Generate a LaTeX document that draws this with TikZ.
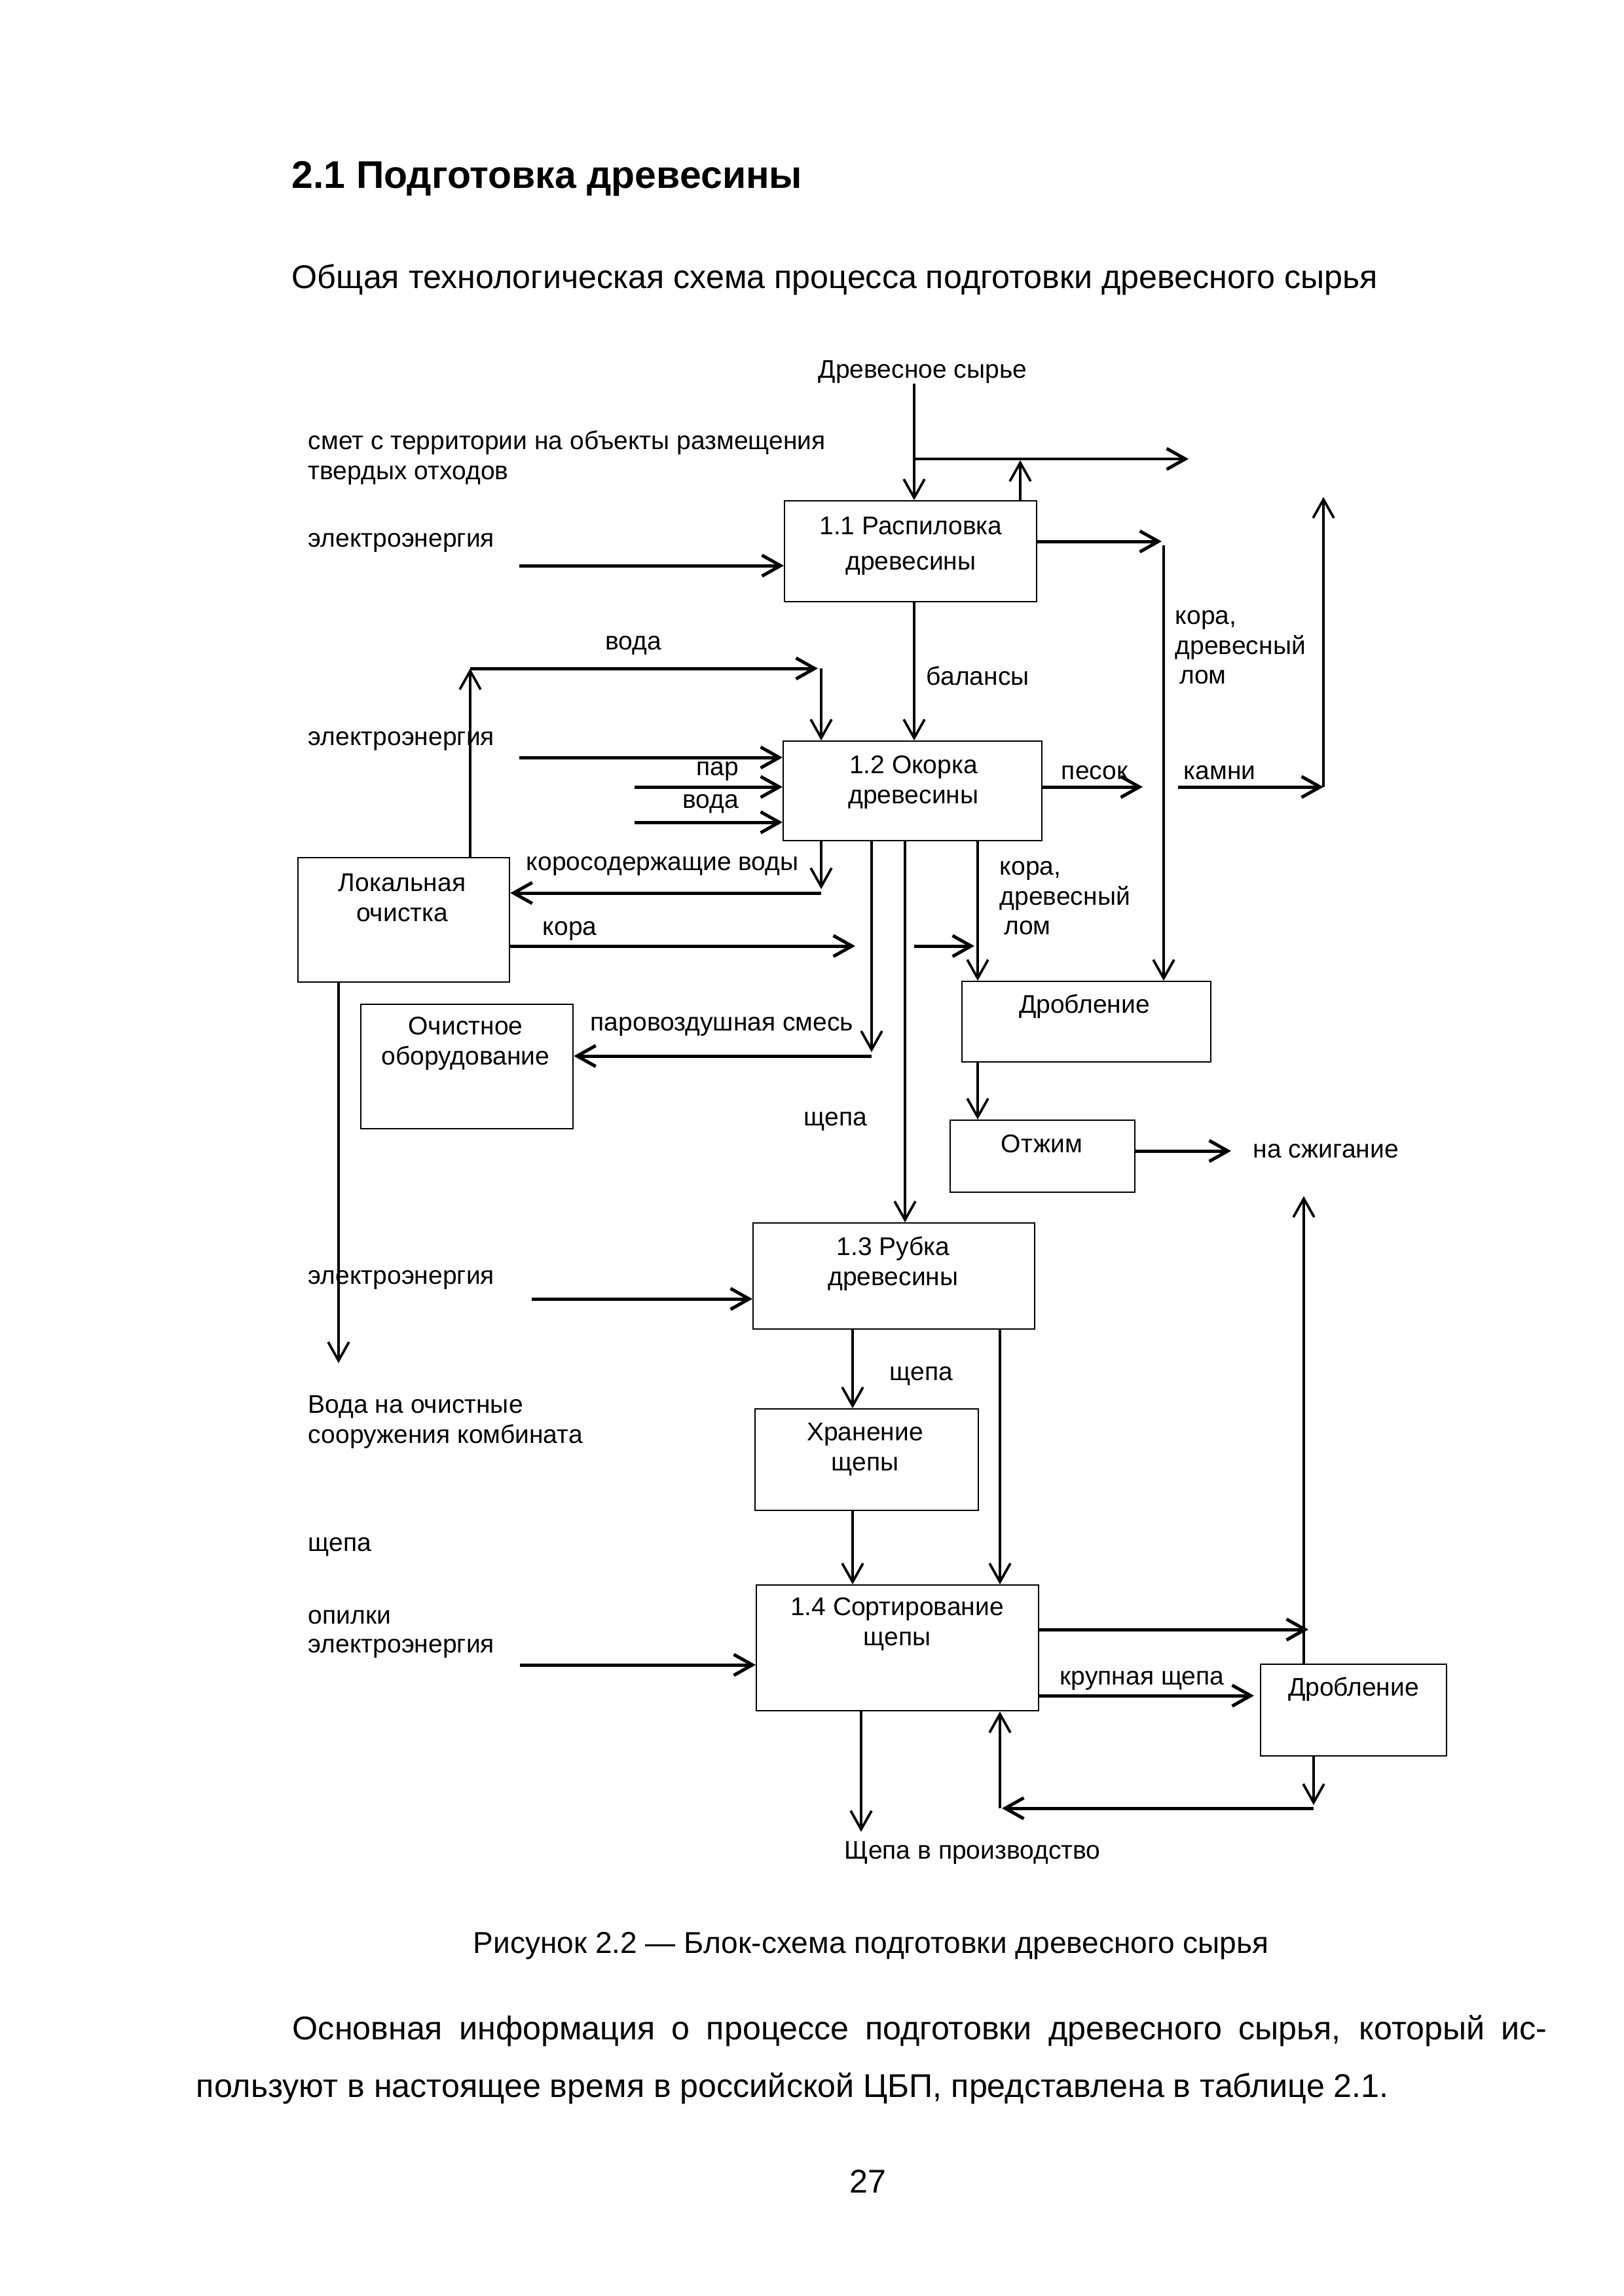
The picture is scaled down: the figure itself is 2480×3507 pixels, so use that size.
\documentclass[tikz,border=0pt]{standalone}
\usepackage{fontspec}
\setmainfont{Liberation Sans}
\usetikzlibrary{arrows.meta}
\newcommand\edpx{0.0846774mm}
\newcommand\dfont{\fontsize{9.4pt}{11pt}\selectfont}
\tikzset{
  blok/.style 2 args={draw, line width=0.55pt, minimum width=#1*\edpx, minimum height=#2*\edpx, anchor=north west, inner sep=0pt},
  txt/.style={font=\dfont, inner sep=0pt, align=center},
  ltxt/.style={font=\dfont, inner sep=0pt, align=left, anchor=west},
  potok/.style={line width=1.2pt, ->},
  vpot/.style={line width=0.9pt, ->},
}
\begin{document}
\begin{tikzpicture}[x=\edpx, y=-\edpx, >={Straight Barb[length=2.4mm,width=2.7mm]}]
\useasboundingbox (0,0) rectangle (2480,3507);
% page text
\node[font=\fontsize{14.2pt}{16pt}\selectfont\bfseries, anchor=west, inner sep=0pt] (zag) at (445,273) {2.1 Подготовка древесины};
\node[font=\fontsize{12.1pt}{15pt}\selectfont, anchor=west, inner sep=0pt] (podzag) at (445,427) {Общая технологическая схема процесса подготовки древесного сырья};

% blocks
\node[blok={385}{154}] (b11) at (1197,764) {};
\node[blok={395}{152}] (b12) at (1195,1131) {};
\node[blok={323}{190}] (lok) at (454,1309) {};
\node[blok={324}{190}] (ochist) at (550,1533) {};
\node[blok={380}{123}] (drob1) at (1468,1498) {};
\node[blok={282}{110}] (otzhim) at (1450,1710) {};
\node[blok={430}{162}] (b13) at (1149,1867) {};
\node[blok={341}{155}] (hran) at (1152,2151) {};
\node[blok={431}{192}] (b14) at (1154,2420) {};
\node[blok={284}{140}] (drob2) at (1924,2541) {};

\node[txt] (b11t) at (1391,834) {1.1 Распиловка\\[2pt]древесины};
\node[txt] (b12t) at (1395,1195) {1.2 Окорка\\древесины};
\node[txt] (lokt) at (614,1371) {Локальная\\очистка};
\node[txt] (ochistt) at (711,1594) {Очистное\\оборудование};
\node[txt] (drob1t) at (1656,1537) {Дробление};
\node[txt] (otzhimt) at (1591,1747) {Отжим};
\node[txt] (b13t) at (1364,1930) {1.3 Рубка\\древесины};
\node[txt] (hrant) at (1321,2214) {Хранение\\щепы};
\node[txt] (b14t) at (1370,2481) {1.4 Сортирование\\щепы};
\node[txt] (drob2t) at (2067,2580) {Дробление};

% labels
\node[txt] (syr) at (1409,568) {Древесное сырье};
\node[ltxt] (smet) at (470,699) {смет с территории на объекты размещения\\твердых отходов};
\node[ltxt] (el1) at (470,829) {электроэнергия};
\node[txt] (voda1) at (967,986) {вода};
\node[ltxt] (bal) at (1414,1032) {балансы};
\node[ltxt] (kora1) at (1794,989) {кора,\\древесный\\\hspace{1.5pt}лом};
\node[ltxt] (el2) at (470,1132) {электроэнергия};
\node[txt, anchor=east] (par) at (1129,1178) {пар};
\node[txt, anchor=east] (voda2) at (1129,1228) {вода};
\node[ltxt] (pesok) at (1620,1180) {песок};
\node[ltxt] (kamni) at (1807,1180) {камни};
\node[ltxt] (korvod) at (803,1323) {коросодержащие воды};
\node[ltxt] (kora2) at (1526,1372) {кора,\\древесный\\\hspace{1.5pt}лом};
\node[ltxt] (kora3) at (828,1422) {кора};
\node[ltxt] (parvoz) at (901,1568) {паровоздушная смесь};
\node[txt] (shch1) at (1276,1713) {щепа};
\node[ltxt] (szhig) at (1913,1758) {на сжигание};
\node[ltxt] (el3) at (470,1955) {электроэнергия};
\node[ltxt] (shch2) at (1358,2102) {щепа};
\node[ltxt] (stok) at (470,2172) {Вода на очистные\\сооружения комбината};
\node[ltxt] (shch3) at (470,2363) {щепа};
\node[ltxt] (opil) at (470,2470) {опилки};
\node[ltxt] (el4) at (470,2518) {электроэнергия};
\node[ltxt] (krup) at (1618,2567) {крупная щепа};
\node[txt] (vproizv) at (1485,2830) {Щепа в производство};

% 1.1
\coordinate (r1) at (1396,701);
\coordinate (r2) at (1815,701);
\coordinate (u1) at (1558,703);
\coordinate (e1) at (793,864);
\coordinate (k1) at (1774,827);
\coordinate (k2) at (1777,833);
\draw[vpot] (syr.south -| r1) -- (b11.north -| r1);
\draw[potok] (r1) -- (r2);
\draw[vpot] (b11.north -| u1) -- (u1);
\draw[potok] (e1) -- (e1 -| b11.west);
\draw[potok] (b11.east |- k1) -- (k1);
\draw[vpot] (k2) -- (k2 |- drob1.north);
\draw[vpot] (b11.south -| r1) -- (b12.north -| r1);

% kamni
\coordinate (m1) at (1799,1202);
\coordinate (m2) at (2021,1202);
\coordinate (m3) at (2021,759);
\draw[potok] (m1) -- (m2);
\draw[vpot] (m2) -- (m3);

% water loop
\coordinate (v1) at (718,1021);
\coordinate (v2) at (1249,1021);
\coordinate (v3) at (1254,1021);
\draw[vpot] (lok.north -| v1) -- (v1);
\draw[potok] (v1) -- (v2);
\draw[vpot] (v3) -- (v3 |- b12.north);

% 1.2
\coordinate (e2) at (793,1157);
\coordinate (p1) at (969,1202);
\coordinate (p2) at (969,1256);
\coordinate (s1) at (1745,1202);
\draw[potok] (e2) -- (e2 -| b12.west);
\draw[potok] (p1) -- (p1 -| b12.west);
\draw[potok] (p2) -- (p2 -| b12.west);
\draw[potok] (b12.east |- s1) -- (s1);

\coordinate (c1) at (1254,1358);
\coordinate (c2) at (1254,1364);
\draw[vpot] (b12.south -| c1) -- (c1);
\draw[potok] (c2) -- (c2 -| lok.east);

\coordinate (a1) at (1331,1607);
\coordinate (a2) at (1331,1613);
\draw[vpot] (b12.south -| a1) -- (a1);
\draw[potok] (a2) -- (a2 -| ochist.east);

\coordinate (q1) at (1382,1700);
\draw[vpot] (b12.south -| q1) -- (b13.north -| q1);

\coordinate (d1) at (1493,1400);
\draw[vpot] (b12.south -| d1) -- (drob1.north -| d1);
\draw[vpot] (drob1.south -| d1) -- (otzhim.north -| d1);

\coordinate (h1) at (1306,1445);
\coordinate (h2) at (1396,1445);
\coordinate (h3) at (1488,1445);
\draw[potok] (lok.east |- h1) -- (h1);
\draw[potok] (h2) -- (h3);

\coordinate (w1) at (517,2082);
\draw[vpot] (lok.south -| w1) -- (w1);

\coordinate (o1) at (1880,1758);
\draw[potok] (otzhim.east |- o1) -- (o1);

% 1.3
\coordinate (e3) at (812,1984);
\coordinate (t1) at (1302,2100);
\coordinate (t2) at (1527,2300);
\draw[potok] (e3) -- (e3 -| b13.west);
\draw[vpot] (b13.south -| t1) -- (hran.north -| t1);
\draw[vpot] (hran.south -| t1) -- (b14.north -| t1);
\draw[vpot] (b13.south -| t2) -- (b14.north -| t2);

% 1.4
\coordinate (e4) at (794,2543);
\coordinate (g1) at (1998,2489);
\coordinate (g2) at (1991,1827);
\coordinate (kr) at (1915,2590);
\draw[potok] (e4) -- (e4 -| b14.west);
\draw[potok] (b14.east |- g1) -- (g1);
\draw[vpot] (drob2.north -| g2) -- (g2);
\draw[potok] (b14.east |- kr) -- (kr);

\coordinate (f1) at (2006,2757);
\coordinate (f2) at (2006,2762);
\coordinate (f3) at (1530,2762);
\coordinate (f4) at (1527,2762);
\draw[vpot] (drob2.south -| f1) -- (f1);
\draw[potok] (f2) -- (f3);
\draw[vpot] (f4) -- (b14.south -| f4);

\coordinate (z1) at (1315,2798);
\draw[vpot] (b14.south -| z1) -- (z1);

% caption and text
\node[font=\fontsize{11.1pt}{14pt}\selectfont, inner sep=0pt] (podpis) at (1330,2972) {Рисунок 2.2 — Блок-схема подготовки древесного сырья};
\node[font=\fontsize{12.1pt}{15pt}\selectfont, anchor=west, inner sep=0pt] (abz1) at (446,3102) {\makebox[162.2mm][s]{Основная информация о процессе подготовки древесного сырья, который ис-}};
\node[font=\fontsize{12.1pt}{15pt}\selectfont, anchor=west, inner sep=0pt] (abz2) at (299,3190) {пользуют в настоящее время в российской ЦБП, представлена в таблице 2.1.};
\node[font=\fontsize{12.1pt}{15pt}\selectfont, inner sep=0pt] (nomer) at (1325,3332) {27};
\end{tikzpicture}
\end{document}
